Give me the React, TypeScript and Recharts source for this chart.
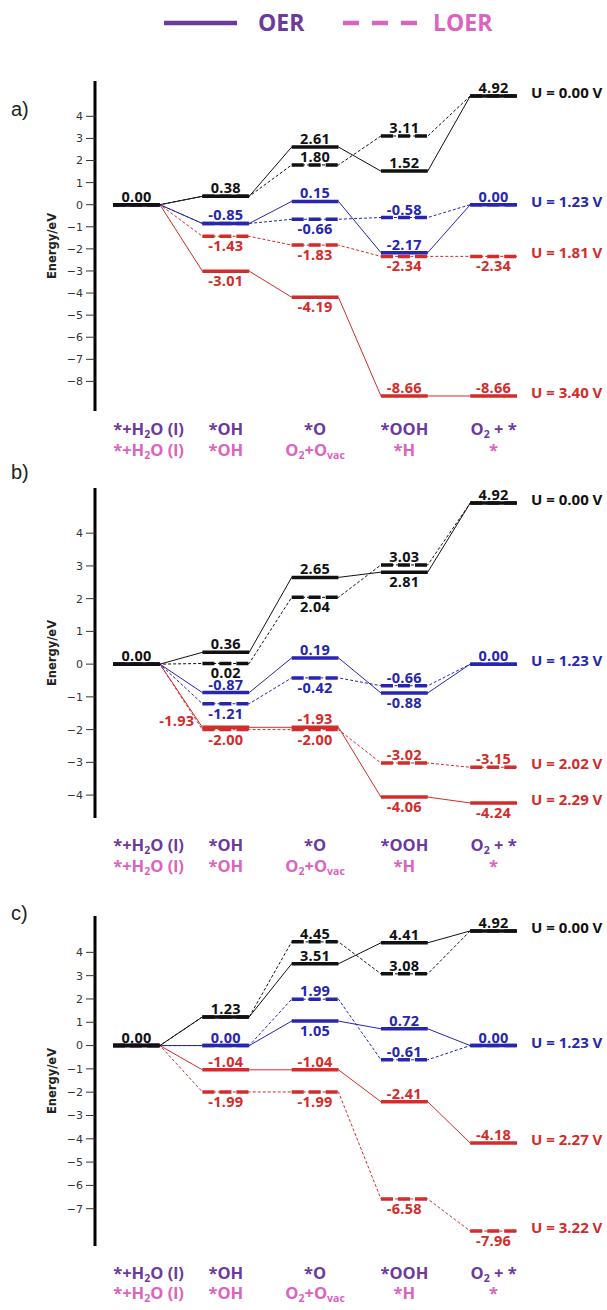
import React from 'react';
import { LineChart, Line, XAxis, YAxis, ReferenceLine } from 'recharts';

const STEPS = [0, 1, 2, 3, 4];
const OER_STEPS = ['*+H{2}O (l)', '*OH', '*O', '*OOH', 'O{2} + *'];
const LOER_STEPS = ['*+H{2}O (l)', '*OH', 'O{2}+O{vac}', '*H', '*'];

// a)
const A_TICKS = [-8, -7, -6, -5, -4, -3, -2, -1, 0, 1, 2, 3, 4];
const A_OER_000 = [0, 0.38, 2.61, 1.52, 4.92];
const A_LOER_000 = [0, 0.38, 1.8, 3.11, 4.92];
const A_OER_123 = [0, -0.85, 0.15, -2.17, 0.0];
const A_LOER_123 = [0, -0.85, -0.66, -0.58, 0.0];
const A_LOER_181 = [0, -1.43, -1.83, -2.34, -2.34];
const A_OER_340 = [0, -3.01, -4.19, -8.66, -8.66];

// b)
const B_TICKS = [-4, -3, -2, -1, 0, 1, 2, 3, 4];
const B_OER_000 = [0, 0.36, 2.65, 2.81, 4.92];
const B_LOER_000 = [0, 0.02, 2.04, 3.03, 4.92];
const B_OER_123 = [0, -0.87, 0.19, -0.88, 0.0];
const B_LOER_123 = [0, -1.21, -0.42, -0.66, 0.0];
const B_LOER_202 = [0, -2.0, -2.0, -3.02, -3.15];
const B_OER_229 = [0, -1.93, -1.93, -4.06, -4.24];

// c)
const C_TICKS = [-7, -6, -5, -4, -3, -2, -1, 0, 1, 2, 3, 4];
const C_OER_000 = [0, 1.23, 3.51, 4.41, 4.92];
const C_LOER_000 = [0, 1.23, 4.45, 3.08, 4.92];
const C_OER_123 = [0, 0.0, 1.05, 0.72, 0.0];
const C_LOER_123 = [0, 0.0, 1.99, -0.61, 0.0];
const C_OER_227 = [0, -1.04, -1.04, -2.41, -4.18];
const C_LOER_322 = [0, -1.99, -1.99, -6.58, -7.96];

const BLACK = '#111111';
const BLUE = '#2626b0';
const RED = '#d42b2b';
const OER_C = '#6b3a9b';
const LOER_C = '#db63be';
const HALF = 0.262;
const FONT = "'Open Sans', sans-serif";

type Series = { values: number[]; color: string; dashed: boolean; labels: string[]; u?: string };

const panelA: Series[] = [
  { values: A_LOER_181, color: RED, dashed: true, labels: ['', 'below', 'below', 'below', 'below'], u: 'U = 1.81 V' },
  { values: A_OER_340, color: RED, dashed: false, labels: ['', 'below', 'below', 'above', 'above'], u: 'U = 3.40 V' },
  { values: A_LOER_123, color: BLUE, dashed: true, labels: ['', '', 'below', 'above', ''] },
  { values: A_OER_123, color: BLUE, dashed: false, labels: ['', 'above', 'above', 'above', 'above'], u: 'U = 1.23 V' },
  { values: A_LOER_000, color: BLACK, dashed: true, labels: ['', '', 'above', 'above', ''] },
  { values: A_OER_000, color: BLACK, dashed: false, labels: ['above', 'above', 'above', 'above', 'above'], u: 'U = 0.00 V' },
];

const panelB: Series[] = [
  { values: B_LOER_202, color: RED, dashed: true, labels: ['', 'below', 'below', 'above', 'above'], u: 'U = 2.02 V' },
  { values: B_OER_229, color: RED, dashed: false, labels: ['', 'left', 'above', 'below', 'below'], u: 'U = 2.29 V' },
  { values: B_LOER_123, color: BLUE, dashed: true, labels: ['', 'below', 'below', 'above', ''] },
  { values: B_OER_123, color: BLUE, dashed: false, labels: ['', 'above', 'above', 'below', 'above'], u: 'U = 1.23 V' },
  { values: B_LOER_000, color: BLACK, dashed: true, labels: ['', 'below', 'below', 'above', ''] },
  { values: B_OER_000, color: BLACK, dashed: false, labels: ['above', 'above', 'above', 'below', 'above'], u: 'U = 0.00 V' },
];

const panelC: Series[] = [
  { values: C_LOER_322, color: RED, dashed: true, labels: ['', 'below', 'below', 'below', 'below'], u: 'U = 3.22 V' },
  { values: C_OER_227, color: RED, dashed: false, labels: ['', 'above', 'above', 'above', 'above'], u: 'U = 2.27 V' },
  { values: C_LOER_123, color: BLUE, dashed: true, labels: ['', '', 'above', 'above', ''] },
  { values: C_OER_123, color: BLUE, dashed: false, labels: ['', 'above', 'below', 'above', 'above'], u: 'U = 1.23 V' },
  { values: C_LOER_000, color: BLACK, dashed: true, labels: ['', '', 'above', 'above', ''] },
  { values: C_OER_000, color: BLACK, dashed: false, labels: ['above', 'above', 'above', 'above', 'above'], u: 'U = 0.00 V' },
];

// "{..}" marks a subscript
function rich(s: string) {
  const parts = s.split(/(\{[^}]*\})/).filter(Boolean);
  let sub = false;
  return parts.map((p, k) => {
    if (p.startsWith('{')) {
      sub = true;
      return <tspan key={k} dy={3} fontSize={10.5}>{p.slice(1, -1)}</tspan>;
    }
    const dy = sub ? -3 : 0;
    sub = false;
    return <tspan key={k} dy={dy}>{p}</tspan>;
  });
}

function StepTick(props: any) {
  const { x, y, payload, rows } = props;
  const i = payload.value;
  // first label sits a bit right of its level in the original
  const cx = i === 0 ? x + 12 : x;
  const common = { x: cx, textAnchor: 'middle' as const, fontSize: 16.5, fontWeight: 700, fontFamily: FONT };
  return (
    <g>
      <text {...common} y={y + rows[0]} fill={OER_C}>{rich(OER_STEPS[i])}</text>
      <text {...common} y={y + rows[1]} fill={LOER_C}>{rich(LOER_STEPS[i])}</text>
    </g>
  );
}

function levelLabel(value: number, pos: string, color: string, u?: string) {
  return (p: any) => {
    const vb = p.viewBox;
    if (!vb) return null;
    const cx = vb.x + vb.width / 2;
    const txt = value.toFixed(2);
    const st = { fontSize: 14.5, fontWeight: 700, fontFamily: FONT, fill: color, letterSpacing: 0.3 };
    let main = null;
    if (pos === 'above') main = <text {...st} x={cx} y={vb.y - 3} textAnchor="middle">{txt}</text>;
    if (pos === 'below') main = <text {...st} x={cx} y={vb.y + 15} textAnchor="middle">{txt}</text>;
    if (pos === 'left') main = <text {...st} x={vb.x - 8} y={vb.y - 1} textAnchor="end">{txt}</text>;
    return (
      <g>
        {main}
        {u && <text {...st} letterSpacing={0} fontSize={15} x={vb.x + vb.width + 14} y={vb.y + 2}>{u}</text>}
      </g>
    );
  };
}

function Panel({ top, domain, ticks, series, rows }: { top: number; domain: [number, number]; ticks: number[]; series: Series[]; rows: number[] }) {
  const PLOT_H = 330;
  const M_TOP = 20;
  const AX_H = 62;
  return (
    <div style={{ position: 'absolute', left: 0, top: top - M_TOP }}>
      <LineChart width={607} height={M_TOP + PLOT_H + AX_H} margin={{ top: M_TOP, right: 0, bottom: 0, left: 0 }}>
        <XAxis
          type="number"
          dataKey="x"
          domain={[-0.465, 5.27]}
          ticks={STEPS}
          interval={0}
          allowDataOverflow
          axisLine={false}
          tickLine={false}
          tickSize={0}
          tickMargin={0}
          height={AX_H}
          tick={(p: any) => <StepTick {...p} rows={rows} />}
        />
        <YAxis
          type="number"
          domain={domain}
          ticks={ticks}
          interval={0}
          allowDataOverflow
          width={95}
          axisLine={{ stroke: '#000', strokeWidth: 3 }}
          tickLine={{ stroke: '#333', strokeWidth: 1 }}
          tickSize={9}
          tickMargin={3}
          tick={{ fontSize: 11, fill: '#333', fontFamily: 'DejaVu Sans' }}
          tickFormatter={(v: number) => String(v).replace('-', '\u2212')}
          label={(p: any) => {
            const vb = p.viewBox;
            if (!vb) return null;
            const cx = vb.x + 52;
            const cy = vb.y + vb.height / 2;
            return (
              <text x={cx} y={cy} transform={`rotate(-90 ${cx} ${cy})`} textAnchor="middle" dominantBaseline="central"
                fontSize={11.5} fontWeight={700} fontFamily="DejaVu Sans" fill="#222">Energy/eV</text>
            );
          }}
        />
        {series.map((s, si) => (
          <Line
            key={`l${si}`}
            data={s.values.flatMap((v, i) => [{ x: i - HALF, y: v }, { x: i + HALF, y: v }])}
            dataKey="y"
            stroke={s.color}
            strokeWidth={1}
            strokeDasharray={s.dashed ? '3 2' : undefined}
            dot={false}
            activeDot={false}
            isAnimationActive={false}
          />
        ))}
        {series.flatMap((s, si) =>
          s.values.map((v, i) => (
            <ReferenceLine
              key={`r${si}-${i}`}
              segment={[{ x: i - HALF, y: v }, { x: i + HALF, y: v }]}
              stroke={s.color}
              strokeWidth={3.5}
              strokeDasharray={s.dashed ? '12 5' : undefined}
              ifOverflow="visible"
              label={levelLabel(v, s.labels[i], s.color, i === 4 ? s.u : undefined)}
            />
          ))
        )}
      </LineChart>
    </div>
  );
}

export default function App() {
  return (
    <div style={{ position: 'absolute', left: 0, top: 0, width: 607, height: 1310, background: '#fff', overflow: 'hidden' }}>
      <svg width={607} height={50} style={{ position: 'absolute', left: 0, top: 0 }}>
        <line x1={164} x2={237} y1={23} y2={23} stroke={OER_C} strokeWidth={4.5} />
        <text x={258} y={31} fontSize={23} fontWeight={700} fontFamily={FONT} fill={OER_C}>OER</text>
        <line x1={343} x2={417} y1={23} y2={23} stroke={LOER_C} strokeWidth={4.5} strokeDasharray="16 13" />
        <text x={433} y={31} fontSize={23} fontWeight={700} fontFamily={FONT} fill={LOER_C}>LOER</text>
      </svg>
      {[['a)', 109], ['b)', 472], ['c)', 913]].map(([t, y]) => (
        <div key={t as string} style={{ position: 'absolute', left: 11, top: (y as number) - 12, fontFamily: 'Liberation Sans, sans-serif', fontSize: 20, lineHeight: '24px', color: '#222' }}>{t}</div>
      ))}
      <Panel top={80.5} domain={[-9.34, 5.6]} ticks={A_TICKS} series={panelA} rows={[24, 45]} />
      <Panel top={487.5} domain={[-4.7, 5.38]} ticks={B_TICKS} series={panelB} rows={[33, 54]} />
      <Panel top={915.5} domain={[-8.6, 5.56]} ticks={C_TICKS} series={panelC} rows={[33, 53]} />
    </div>
  );
}
